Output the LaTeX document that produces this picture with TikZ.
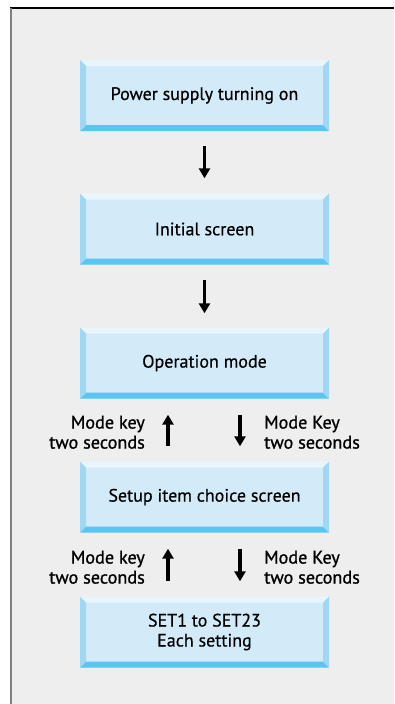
\documentclass[tikz,border=0pt]{standalone}
\usepackage{fontspec}
\setmainfont{PT Sans}
\newfontfamily\boxfont{PT Sans}[FakeBold=0.5]
\newfontfamily\keyfont{PT Sans}[FakeBold=1.0]
\usetikzlibrary{arrows.meta}
\definecolor{bgcol}{HTML}{EDEEED}
\definecolor{facecol}{HTML}{D3EBF8}
\definecolor{bevtop}{HTML}{E8F5FD}
\definecolor{bevside}{HTML}{9FD8F5}
\definecolor{bevbot}{HTML}{5BC5F2}
\tikzset{
  bevelbox/.style={minimum width=249pt, minimum height=71pt, fill=facecol, inner sep=0pt,
    align=center, font=\boxfont\fontsize{18}{20}\selectfont,
    path picture={
      \coordinate (nw) at (path picture bounding box.north west);
      \coordinate (ne) at (path picture bounding box.north east);
      \coordinate (sw) at (path picture bounding box.south west);
      \coordinate (se) at (path picture bounding box.south east);
      \fill[bevtop] (nw) -- (ne) -- ([shift={(-6pt,-6pt)}]ne) -- ([shift={(6pt,-6pt)}]nw) -- cycle;
      \fill[bevbot] (sw) -- (se) -- ([shift={(-6pt,6pt)}]se) -- ([shift={(6pt,6pt)}]sw) -- cycle;
      \fill[bevside] (nw) -- ([shift={(6pt,-6pt)}]nw) -- ([shift={(6pt,6pt)}]sw) -- (sw) -- cycle;
      \fill[bevside] (ne) -- ([shift={(-6pt,-6pt)}]ne) -- ([shift={(-6pt,6pt)}]se) -- (se) -- cycle;
    }},
  flow/.style={line width=3.5pt, -{Triangle[width=11pt,length=10pt]}},
  keylabel/.style={font=\keyfont\fontsize{18.2}{20}\selectfont, inner sep=0pt}
}
\begin{document}
\begin{tikzpicture}[x=1pt,y=-1pt]
  \useasboundingbox (0,0) rectangle (394,704);
  \fill[white] (0,0) rectangle (394,704);
  \fill[bgcol] (11,8) rectangle (394,704);
  \draw[black, line width=1.2pt] (10,8) -- (394,8);
  \draw[gray, line width=2pt] (11,8) -- (11,704);

  \node[bevelbox] (pwr) at (204.5,95.5) {Power supply turning on};
  \node[bevelbox] (init) at (204.5,229) {Initial screen};
  \node[bevelbox] (oper) at (204.5,363) {Operation mode};
  \node[bevelbox] (setup) at (204.5,497) {Setup item choice screen};
  \node[bevelbox] (each) at (204.5,632) {SET1 to SET23\\Each setting};

  \draw[flow] ([yshift=-15pt]pwr.south) -- ([yshift=15pt]init.north);
  \draw[flow] ([yshift=-15pt]init.south) -- ([yshift=14pt]oper.north);

  \draw[flow] ([xshift=-36.5pt,yshift=15pt]setup.north) -- ([xshift=-36.5pt,yshift=-16pt]oper.south);
  \draw[flow] ([xshift=35.5pt,yshift=-16pt]oper.south) -- ([xshift=35.5pt,yshift=15pt]setup.north);
  \node[keylabel, anchor=east, align=right] (upa) at ([xshift=-59.5pt,yshift=29pt]setup.north) {Mode key\\two seconds};
  \node[keylabel, anchor=west, align=left] (downa) at ([xshift=59.5pt,yshift=29pt]setup.north) {Mode Key\\two seconds};

  \draw[flow] ([xshift=-36.5pt,yshift=15pt]each.north) -- ([xshift=-36.5pt,yshift=-16pt]setup.south);
  \draw[flow] ([xshift=35.5pt,yshift=-16pt]setup.south) -- ([xshift=35.5pt,yshift=15pt]each.north);
  \node[keylabel, anchor=east, align=right] (upb) at ([xshift=-59.5pt,yshift=29pt]each.north) {Mode key\\two seconds};
  \node[keylabel, anchor=west, align=left] (downb) at ([xshift=59.5pt,yshift=29pt]each.north) {Mode Key\\two seconds};
\end{tikzpicture}
\end{document}
